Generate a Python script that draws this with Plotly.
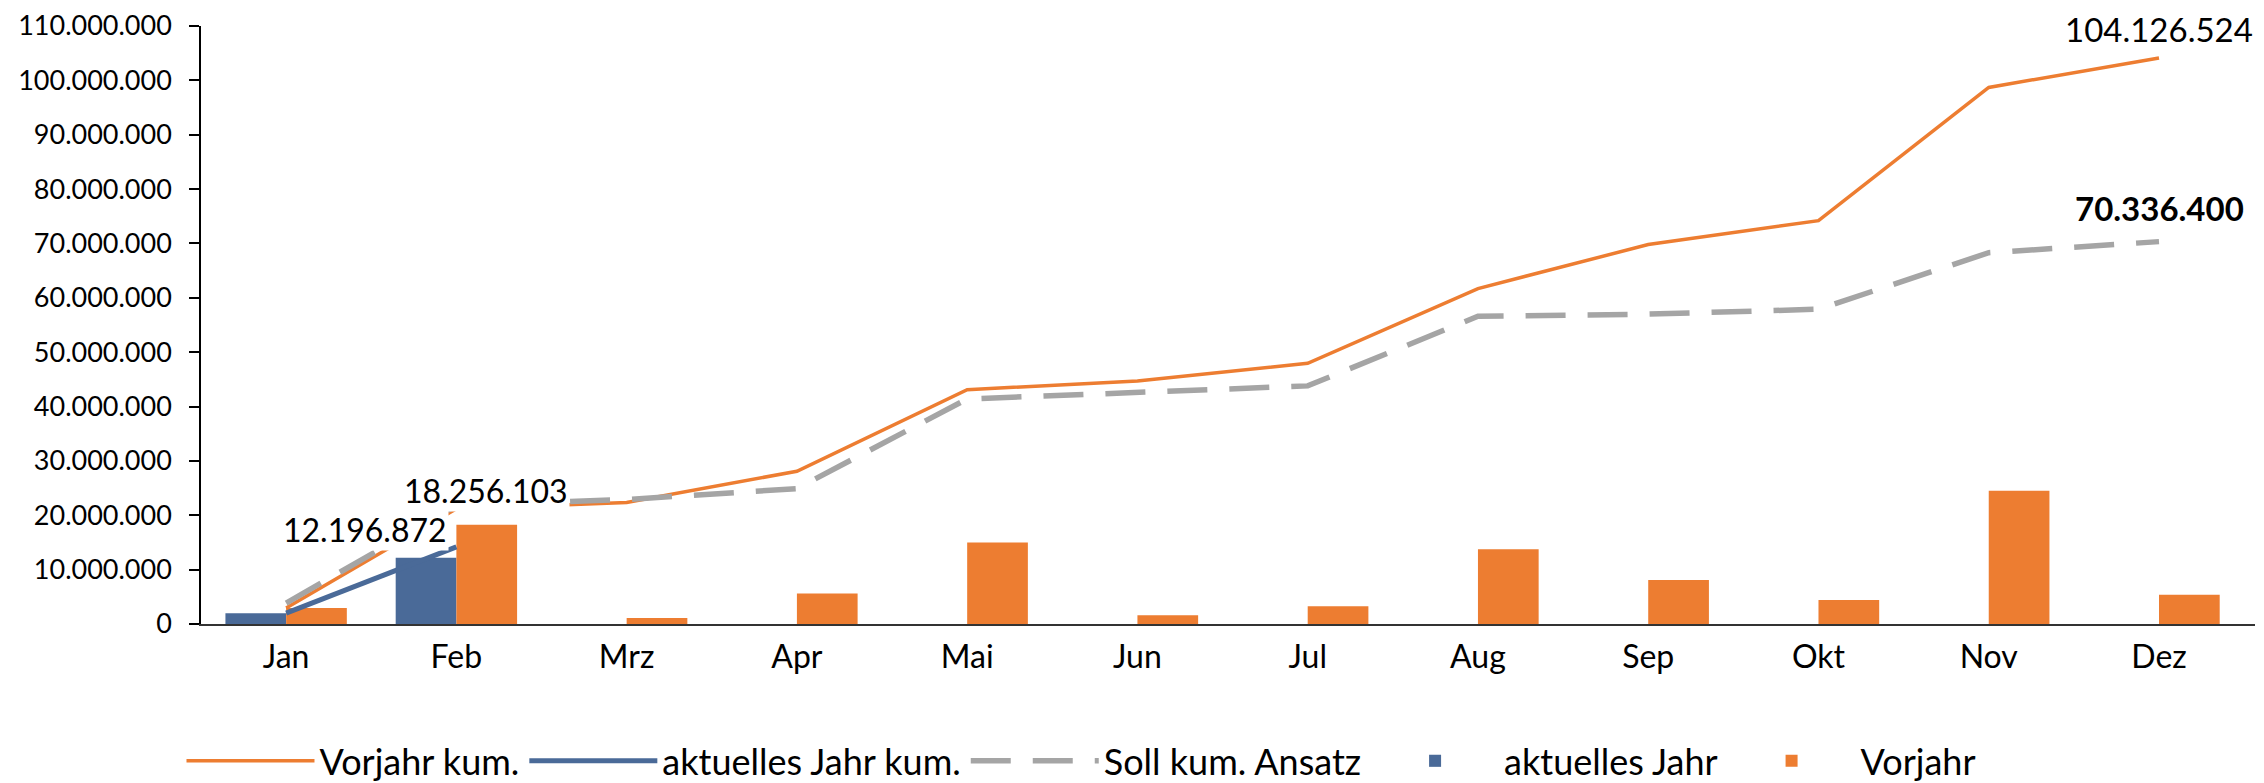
import plotly.graph_objects as go

months = ["Jan", "Feb", "Mrz", "Apr", "Mai", "Jun", "Jul", "Aug", "Sep", "Okt", "Nov", "Dez"]

# monthly values
aktuelles_jahr = [2000000, 12196872, None, None, None, None, None, None, None, None, None, None]
vorjahr = [2930000, 18256103, 1100000, 5600000, 15000000, 1600000, 3250000, 13750000, 8100000, 4400000, 24500000, 5400000]

# cumulative values
aktuelles_jahr_kum = [2000000, 14196872, None, None, None, None, None, None, None, None, None, None]
vorjahr_kum = [2930000, 21186103, 22350000, 28100000, 43100000, 44700000, 47950000, 61700000, 69800000, 74200000, 98700000, 104126524]
soll_kum = [3850000, 21800000, 22900000, 24900000, 41400000, 42500000, 43800000, 56600000, 57000000, 57900000, 68300000, 70336400]

y_ticks = list(range(0, 110000001, 10000000))

ORANGE = "#ED7D31"
BLUE = "#4A6A98"
GRAY = "#A5A5A5"
FONT = "Lato"

fig = go.Figure()

fig.add_trace(go.Scatter(x=months, y=vorjahr_kum, name="Vorjahr kum.", mode="lines",
                         line=dict(color=ORANGE, width=3.5)))
fig.add_trace(go.Scatter(x=months, y=aktuelles_jahr_kum, name="aktuelles Jahr kum.", mode="lines",
                         line=dict(color=BLUE, width=5)))
fig.add_trace(go.Scatter(x=months, y=soll_kum, name="Soll kum. Ansatz", mode="lines",
                         line=dict(color=GRAY, width=5.5, dash="40px,22px")))
fig.add_trace(go.Bar(x=months, y=aktuelles_jahr, name="aktuelles Jahr", marker=dict(color=BLUE, line_width=0)))
fig.add_trace(go.Bar(x=months, y=vorjahr, name="Vorjahr", marker=dict(color=ORANGE, line_width=0)))

label_font = dict(family=FONT, size=32, color="black")
fig.add_annotation(x="Feb", y=aktuelles_jahr[1], text="12.196.872", showarrow=False,
                   xshift=-91, yshift=28, bgcolor="white", font=label_font)
fig.add_annotation(x="Feb", y=vorjahr[1], text="18.256.103", showarrow=False,
                   xshift=30, yshift=34, bgcolor="white", font=label_font)
fig.add_annotation(x="Dez", y=vorjahr_kum[-1], text="104.126.524", showarrow=False,
                   yshift=29, font=dict(family=FONT, size=33, color="black"))
fig.add_annotation(x="Dez", y=soll_kum[-1], text="<b>70.336.400</b>", showarrow=False,
                   yshift=34, font=dict(family=FONT, size=33, color="black"))

fig.update_layout(
    width=2256, height=775,
    margin=dict(l=193, r=9, t=18, b=159, autoexpand=False),
    paper_bgcolor="white", plot_bgcolor="white",
    separators=",.",
    barmode="group", bargap=0.287, bargroupgap=0,
    font=dict(family=FONT, color="black"),
    showlegend=True,
    legend=dict(orientation="h", x=-0.0095, xanchor="left", y=-0.229, yanchor="middle",
                font=dict(family=FONT, size=36, color="black"),
                itemwidth=128, bgcolor="rgba(0,0,0,0)"),
    xaxis=dict(showline=True, linecolor="#333333", linewidth=2, ticks="",
               showgrid=False, tickfont=dict(family=FONT, size=32, color="black"),
               ticklabelstandoff=4, fixedrange=True),
    yaxis=dict(range=[0, 110000000], tickvals=y_ticks, tickformat=",d",
               showline=True, linecolor="black", linewidth=1.5,
               ticks="outside", ticklen=10, tickwidth=1.5, tickcolor="black",
               showgrid=False, zeroline=False, ticklabelstandoff=12,
               ticklabeloverflow="allow",
               tickfont=dict(family=FONT, size=27, color="black")),
)

fig.write_html("out.html")
